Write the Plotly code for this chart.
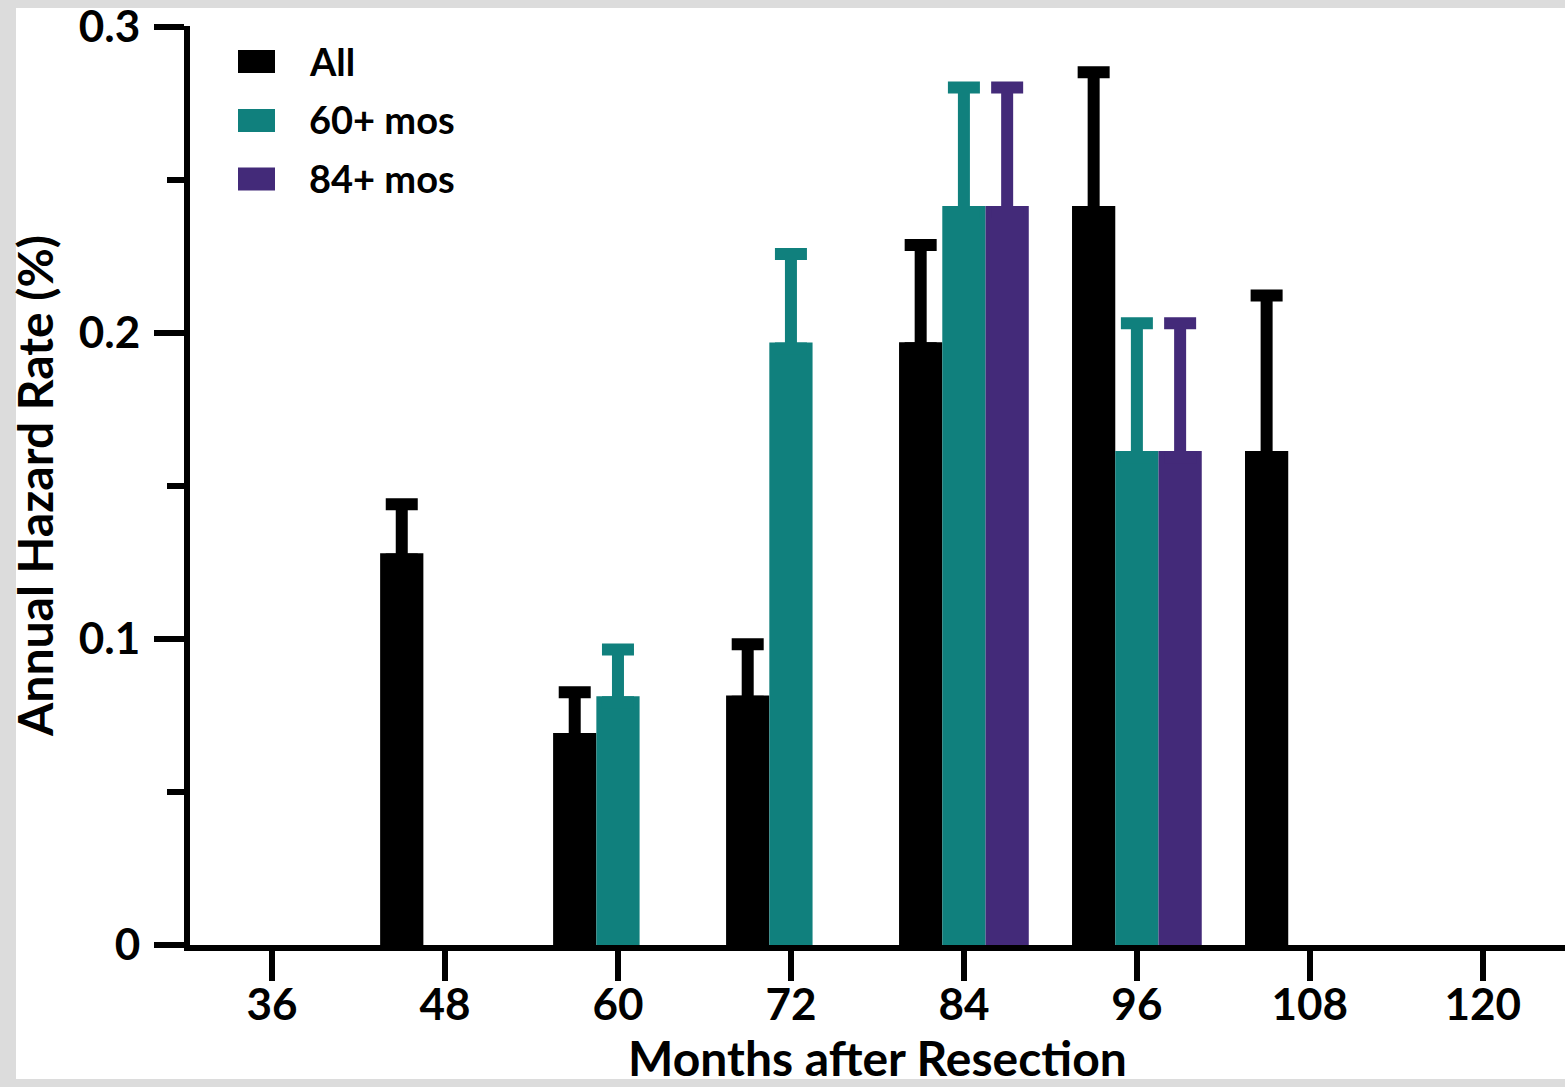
import plotly.graph_objects as go

# ---- data ----
months = [36, 48, 60, 72, 84, 96, 108, 120]
series_names = ["All", "60+ mos", "84+ mos"]
series_colors = ["#000000", "#10807D", "#432A79"]

all_rate = [None, 0.128, 0.0693, 0.0815, 0.197, 0.2415, 0.1614, None]
all_upper = [None, 0.144, 0.0826, 0.0983, 0.2287, 0.2852, 0.2122, None]

m60_rate = [None, None, 0.0813, 0.1969, 0.2415, 0.1614, None, None]
m60_upper = [None, None, 0.0966, 0.2258, 0.2802, 0.2032, None, None]

m84_rate = [None, None, None, None, 0.2415, 0.1614, None, None]
m84_upper = [None, None, None, None, 0.2802, 0.2032, None, None]

y_tickvals = [0, 0.1, 0.2, 0.3]
y_ticktext = ["0", "0.1", "0.2", "0.3"]
x_ticktext = [str(m) for m in months]

rates = [all_rate, m60_rate, m84_rate]
uppers = [all_upper, m60_upper, m84_upper]

FONT = "Lato"

# lower error end tucked just inside the bar so its cap stays hidden
HIDE = 0.002

fig = go.Figure()
for name, color, r, u in zip(series_names, series_colors, rates, uppers):
    plus = [None if (a is None or b is None) else b - a for a, b in zip(r, u)]
    minus = [None if a is None else HIDE for a in r]
    fig.add_trace(go.Bar(
        x=months, y=r, name=name,
        marker=dict(color=color, line=dict(width=0)),
        error_y=dict(type="data", symmetric=False, array=plus, arrayminus=minus,
                     color=color, thickness=12, width=16),
        showlegend=False,
    ))

W, H = 1565, 1087
ml, mr, mt, mb = 190, 0, 26, 142
pw, ph = W - ml - mr, H - mt - mb

def px_x(p):
    return (p - ml) / pw

def px_y(p):
    return (H - mb - p) / ph

shapes = []
annotations = []
# manual legend
row_centers = [61.5, 120.5, 179]
for i, (name, color) in enumerate(zip(series_names, series_colors)):
    c = row_centers[i]
    shapes.append(dict(type="rect", xref="paper", yref="paper",
                       x0=px_x(238), x1=px_x(275), y0=px_y(c + 11.5), y1=px_y(c - 11.5),
                       fillcolor=color, line=dict(width=0)))
    annotations.append(dict(text=name, xref="paper", yref="paper",
                            x=px_x(307), y=px_y(c - 1), xanchor="left", yanchor="middle",
                            showarrow=False,
                            font=dict(family=FONT, size=38, color="black", weight="bold")))

# gray frame strips
gray = "#DCDCDC"
shapes.append(dict(type="rect", xref="paper", yref="paper", x0=px_x(0), x1=px_x(16),
                   y0=px_y(H), y1=px_y(0), fillcolor=gray, line=dict(width=0)))
shapes.append(dict(type="rect", xref="paper", yref="paper", x0=px_x(0), x1=px_x(W),
                   y0=px_y(8), y1=px_y(0), fillcolor=gray, line=dict(width=0)))
shapes.append(dict(type="rect", xref="paper", yref="paper", x0=px_x(0), x1=px_x(W),
                   y0=px_y(H), y1=px_y(1079), fillcolor=gray, line=dict(width=0)))

fig.update_layout(
    width=W, height=H,
    margin=dict(l=ml, r=mr, t=mt, b=mb, pad=0),
    paper_bgcolor="white", plot_bgcolor="white",
    barmode="group", bargap=0.25, bargroupgap=0,
    shapes=shapes, annotations=annotations,
    showlegend=False,
    font=dict(family=FONT, color="black"),
)
fig.update_xaxes(
    range=[30.31, 125.7], tickvals=months, ticktext=x_ticktext,
    showline=True, linecolor="black", linewidth=6,
    ticks="outside", ticklen=30, tickwidth=6, tickcolor="black",
    tickfont=dict(family=FONT, size=44, color="black", weight="bold"),
    ticklabelstandoff=-14, ticklabeloverflow="allow",
    showgrid=False, zeroline=False,
    title=dict(text="Months after Resection", standoff=4,
               font=dict(family=FONT, size=48, color="black", weight="bold")),
)
fig.update_yaxes(
    range=[0, 0.3003], tickvals=y_tickvals, ticktext=y_ticktext,
    showline=True, linecolor="black", linewidth=6,
    ticks="outside", ticklen=30, tickwidth=6, tickcolor="black",
    minor=dict(tickvals=[0.05, 0.15, 0.25], ticks="outside", ticklen=17, tickwidth=6,
               tickcolor="black", showgrid=False),
    tickfont=dict(family=FONT, size=44, color="black", weight="bold"),
    ticklabelstandoff=5, ticklabeloverflow="allow",
    showgrid=False, zeroline=False,
    title=dict(text="Annual Hazard Rate (%)", standoff=12,
               font=dict(family=FONT, size=48, color="black", weight="bold")),
)

fig.write_html("out.html", config={"displayModeBar": False},
               post_script="document.body.style.margin='0px';document.body.style.overflow='hidden';")
